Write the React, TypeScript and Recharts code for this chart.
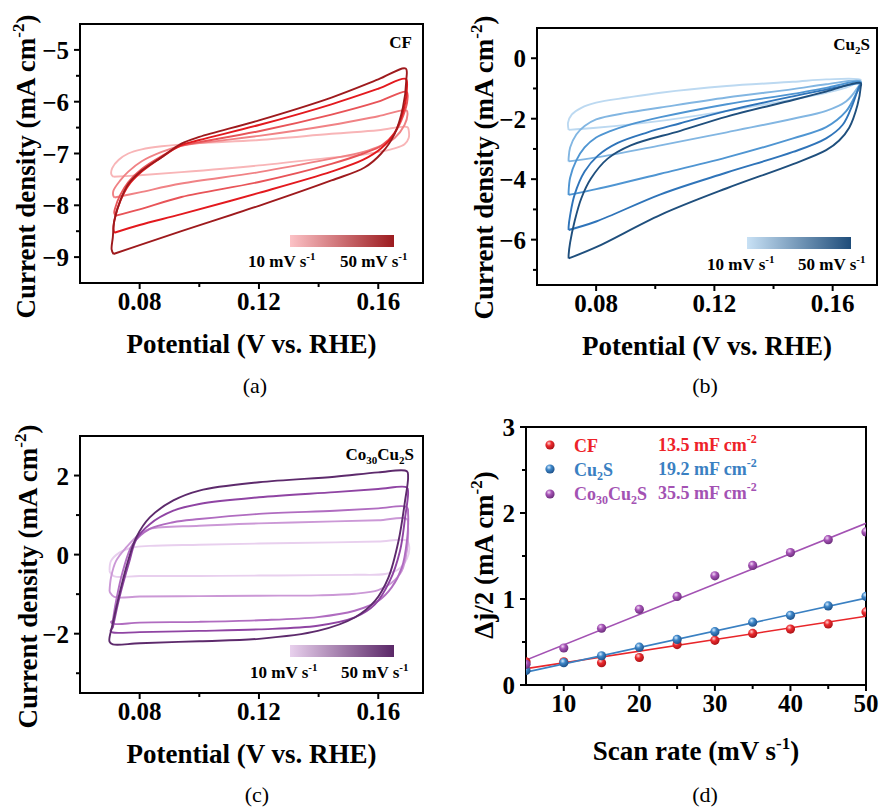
import React from "react";
import {
  LineChart,
  ComposedChart,
  Line,
  Scatter,
  XAxis,
  YAxis,
  ReferenceArea,
  Label,
} from "recharts";

type Pair = [number, number];

const FONT = '"Liberation Serif", "Times New Roman", serif';

// scan rates of the CV loops, light -> dark
const scanRates = [10, 20, 30, 40, 50];

// (a) CF : [potential V, current mA cm-2]
const cf10: Pair[] = [[0.0712,-7.45],[0.08,-7.42],[0.094,-7.36],[0.12,-7.23],[0.1443,-7.08],[0.155,-7.02],[0.161,-6.96],[0.1655,-6.9],[0.1688,-6.82],[0.1702,-6.7],[0.1702,-6.55],[0.1698,-6.49],[0.16,-6.55],[0.1443,-6.62],[0.12,-6.74],[0.1,-6.8],[0.0874,-6.86],[0.0807,-6.92],[0.0762,-7.0],[0.073,-7.12],[0.0708,-7.28],[0.0705,-7.4],[0.0712,-7.45]];
const cf20: Pair[] = [[0.0716,-7.85],[0.08,-7.75],[0.094,-7.58],[0.12,-7.36],[0.1443,-7.1],[0.155,-6.97],[0.161,-6.85],[0.1655,-6.7],[0.1688,-6.45],[0.1698,-6.25],[0.1695,-6.17],[0.16,-6.28],[0.1443,-6.45],[0.12,-6.66],[0.1,-6.8],[0.094,-6.85],[0.0874,-6.97],[0.0807,-7.15],[0.0762,-7.35],[0.0735,-7.52],[0.0712,-7.72],[0.0712,-7.82],[0.0716,-7.85]];
const cf30: Pair[] = [[0.072,-8.2],[0.08,-8.08],[0.094,-7.84],[0.12,-7.55],[0.1443,-7.2],[0.155,-7.0],[0.161,-6.85],[0.1655,-6.6],[0.1685,-6.25],[0.1698,-5.95],[0.1695,-5.81],[0.16,-6.0],[0.1443,-6.25],[0.12,-6.57],[0.1,-6.78],[0.094,-6.85],[0.0874,-7.05],[0.0807,-7.3],[0.0762,-7.55],[0.0735,-7.8],[0.0718,-8.05],[0.0715,-8.15],[0.072,-8.2]];
const cf40: Pair[] = [[0.0715,-8.53],[0.08,-8.38],[0.094,-8.17],[0.12,-7.76],[0.1443,-7.35],[0.155,-7.12],[0.161,-6.9],[0.1655,-6.6],[0.1683,-6.2],[0.1696,-5.75],[0.1692,-5.56],[0.16,-5.75],[0.1443,-6.05],[0.12,-6.45],[0.1,-6.74],[0.094,-6.84],[0.0874,-7.07],[0.0807,-7.35],[0.0762,-7.62],[0.0735,-7.92],[0.0718,-8.22],[0.0712,-8.45],[0.0715,-8.53]];
const cf50: Pair[] = [[0.0712,-8.94],[0.08,-8.77],[0.094,-8.5],[0.12,-8.01],[0.1443,-7.52],[0.1554,-7.27],[0.161,-7.0],[0.1655,-6.62],[0.1683,-6.1],[0.1694,-5.58],[0.1692,-5.36],[0.16,-5.57],[0.1443,-5.92],[0.12,-6.36],[0.1,-6.68],[0.094,-6.81],[0.0874,-7.07],[0.0807,-7.33],[0.0762,-7.59],[0.0735,-7.91],[0.0715,-8.3],[0.071,-8.62],[0.0706,-8.85],[0.0712,-8.94]];

// (b) Cu2S
const cu10: Pair[] = [[0.0707,-2.37],[0.08,-2.3],[0.1018,-2.07],[0.1242,-1.74],[0.1466,-1.36],[0.1578,-1.14],[0.1656,-0.93],[0.1695,-0.71],[0.1578,-0.7],[0.1466,-0.78],[0.1242,-0.92],[0.1018,-1.14],[0.0906,-1.3],[0.08,-1.47],[0.075,-1.64],[0.0718,-1.86],[0.0705,-2.13],[0.0707,-2.37]];
const cu20: Pair[] = [[0.0707,-3.41],[0.08,-3.28],[0.1018,-2.88],[0.1242,-2.45],[0.1466,-2.0],[0.1578,-1.74],[0.1645,-1.43],[0.1684,-0.98],[0.1695,-0.76],[0.1578,-0.86],[0.1466,-1.02],[0.1242,-1.3],[0.1018,-1.63],[0.0906,-1.8],[0.08,-2.02],[0.0761,-2.24],[0.0733,-2.52],[0.0712,-2.95],[0.0707,-3.3],[0.0707,-3.41]];
const cu30: Pair[] = [[0.0707,-4.52],[0.08,-4.33],[0.1018,-3.82],[0.1242,-3.28],[0.1466,-2.65],[0.1578,-2.28],[0.1645,-1.76],[0.1678,-1.2],[0.1695,-0.8],[0.1578,-0.98],[0.1466,-1.18],[0.1242,-1.52],[0.1018,-1.95],[0.0906,-2.22],[0.085,-2.4],[0.08,-2.62],[0.0761,-2.95],[0.0733,-3.38],[0.0712,-3.95],[0.0707,-4.4],[0.0707,-4.52]];
const cu40: Pair[] = [[0.0707,-5.68],[0.08,-5.4],[0.1018,-4.5],[0.1242,-3.78],[0.1466,-3.1],[0.1578,-2.65],[0.1634,-2.2],[0.1667,-1.54],[0.1689,-0.95],[0.1695,-0.85],[0.1578,-1.04],[0.1466,-1.26],[0.1242,-1.74],[0.1085,-2.15],[0.0974,-2.45],[0.0873,-2.8],[0.0806,-3.22],[0.0761,-3.75],[0.0727,-4.52],[0.0712,-5.2],[0.0707,-5.57],[0.0707,-5.68]];
const cu50: Pair[] = [[0.0707,-6.62],[0.08,-6.25],[0.1018,-5.18],[0.1242,-4.3],[0.1466,-3.5],[0.1578,-3.04],[0.1622,-2.72],[0.1656,-2.3],[0.1684,-1.55],[0.1695,-0.95],[0.1695,-0.82],[0.1578,-1.1],[0.1466,-1.38],[0.1242,-1.93],[0.1085,-2.4],[0.0917,-2.88],[0.0839,-3.32],[0.0783,-3.97],[0.075,-4.63],[0.0727,-5.4],[0.0712,-6.1],[0.0707,-6.5],[0.0707,-6.62]];

// (c) Co30Cu2S
const co10: Pair[] = [[0.0699,-0.41],[0.0704,-0.16],[0.0732,0.05],[0.0777,0.18],[0.0834,0.22],[0.1,0.25],[0.12,0.28],[0.1454,0.31],[0.16,0.33],[0.1696,0.35],[0.1704,0.18],[0.1696,-0.11],[0.1668,-0.37],[0.1623,-0.49],[0.1521,-0.51],[0.1397,-0.52],[0.12,-0.53],[0.1,-0.54],[0.08,-0.54],[0.0715,-0.55],[0.0701,-0.45],[0.0699,-0.41]];
const co20: Pair[] = [[0.0699,-0.92],[0.0704,-0.58],[0.0721,-0.16],[0.0755,0.18],[0.08,0.52],[0.0834,0.65],[0.1,0.73],[0.12,0.79],[0.1454,0.84],[0.16,0.87],[0.1696,0.9],[0.17,0.69],[0.1696,0.1],[0.1679,-0.41],[0.1645,-0.71],[0.16,-0.9],[0.1521,-0.99],[0.1397,-1.03],[0.12,-1.04],[0.1,-1.05],[0.08,-1.06],[0.0715,-1.07],[0.0701,-0.96],[0.0699,-0.92]];
const co30: Pair[] = [[0.071,-1.68],[0.0721,-1.17],[0.0744,-0.41],[0.0777,0.27],[0.0834,0.65],[0.0913,0.82],[0.1,0.9],[0.12,1.03],[0.1454,1.11],[0.16,1.17],[0.1696,1.2],[0.17,1.03],[0.1696,0.35],[0.1679,-0.33],[0.1645,-0.83],[0.16,-1.17],[0.1521,-1.42],[0.1397,-1.58],[0.12,-1.66],[0.1,-1.7],[0.08,-1.72],[0.0715,-1.75],[0.0704,-1.7],[0.071,-1.68]];
const co40: Pair[] = [[0.071,-1.85],[0.0732,-1.09],[0.0766,-0.16],[0.0789,0.39],[0.0834,0.77],[0.0913,1.11],[0.1,1.28],[0.12,1.45],[0.1454,1.58],[0.16,1.66],[0.1696,1.7],[0.17,1.58],[0.169,0.94],[0.1673,0.1],[0.1639,-0.66],[0.1589,-1.26],[0.1521,-1.59],[0.1397,-1.8],[0.12,-1.89],[0.1,-1.93],[0.08,-1.96],[0.071,-1.97],[0.0702,-1.93],[0.071,-1.85]];
const co50: Pair[] = [[0.0704,-1.93],[0.0732,-1.0],[0.0761,-0.16],[0.0789,0.44],[0.0834,0.94],[0.0913,1.37],[0.1,1.62],[0.12,1.83],[0.1454,1.97],[0.16,2.08],[0.1696,2.11],[0.17,1.96],[0.169,1.37],[0.1668,0.35],[0.1634,-0.58],[0.1589,-1.17],[0.1521,-1.59],[0.1397,-1.93],[0.12,-2.13],[0.1,-2.19],[0.08,-2.24],[0.071,-2.27],[0.0699,-2.2],[0.0704,-1.93]];

const cfCurves = [cf10, cf20, cf30, cf40, cf50];
const cuCurves = [cu10, cu20, cu30, cu40, cu50];
const coCurves = [co10, co20, co30, co40, co50];

const cfColors = ["#f8b5b7", "#f08285", "#e85458", "#e3191e", "#9e1a1d"];
const cuColors = ["#bcd9f1", "#82b6e2", "#4f95d2", "#2f74b9", "#1f4f7d"];
const coColors = ["#e8cfee", "#cb98d6", "#b06cc0", "#8f44a3", "#5d2a6c"];

// (d) double-layer capacitance
const scanRate = [5, 10, 15, 20, 25, 30, 35, 40, 45, 50];
const cfDj = [0.27, 0.27, 0.26, 0.32, 0.47, 0.52, 0.6, 0.65, 0.71, 0.85];
const cuDj = [0.17, 0.26, 0.34, 0.44, 0.53, 0.62, 0.73, 0.81, 0.92, 1.03];
const coDj = [0.24, 0.43, 0.66, 0.88, 1.03, 1.27, 1.39, 1.54, 1.69, 1.78];
const fitRate = [5, 50];
const cfFit = [0.19, 0.8];
const cuFit = [0.15, 1.01];
const coFit = [0.29, 1.88];
const capacitance = ["13.5", "19.2", "35.5"];

// ticks
const potTicks = [0.08, 0.1, 0.12, 0.14, 0.16];
const potMajor = [0.08, 0.12, 0.16];
const cfTicks = [-9, -8.5, -8, -7.5, -7, -6.5, -6, -5.5, -5];
const cfMajor = [-9, -8, -7, -6, -5];
const cuTicks = [-7, -6, -5, -4, -3, -2, -1, 0];
const cuMajor = [-6, -4, -2, 0];
const coTicks = [-3, -2, -1, 0, 1, 2];
const coMajor = [-2, 0, 2];
const rateTicks = [10, 15, 20, 25, 30, 35, 40, 45, 50];
const rateMajor = [10, 20, 30, 40, 50];
const djTicks = [0, 0.5, 1, 1.5, 2, 2.5, 3];
const djMajor = [0, 1, 2, 3];

const toXY = (p: Pair[]) => p.map(([x, y]) => ({ x, y }));
const zip = (xs: number[], ys: number[]) => xs.map((x, i) => ({ x, y: ys[i] }));
const near = (v: number, list: number[]) => list.some((m) => Math.abs(m - v) < 1e-9);
const signed = (v: number) => (v < 0 ? "\u2212" + Math.abs(v) : String(v));
const pot = (v: number) => v.toFixed(2);

// centripetal Catmull-Rom, so the closed CV loops come out smooth (monotone curves can't do loops)
const catmullRom = (context: any) => {
  let pts: Pair[] = [];
  return {
    areaStart() {},
    areaEnd() {},
    lineStart() {
      pts = [];
    },
    point(x: number, y: number) {
      pts.push([+x, +y]);
    },
    lineEnd() {
      const n = pts.length;
      if (!n) return;
      context.moveTo(pts[0][0], pts[0][1]);
      const d = (a: Pair, b: Pair) => Math.hypot(b[0] - a[0], b[1] - a[1]);
      for (let i = 0; i < n - 1; i++) {
        const p0 = pts[i - 1];
        const p1 = pts[i];
        const p2 = pts[i + 1];
        const p3 = pts[i + 2];
        const l12 = d(p1, p2);
        const a12 = Math.sqrt(l12);
        let c1: Pair = [p1[0], p1[1]];
        let c2: Pair = [p2[0], p2[1]];
        if (p0) {
          const l01 = d(p0, p1);
          const a01 = Math.sqrt(l01);
          if (a01 > 1e-6) {
            const a = 2 * l01 + 3 * a01 * a12 + l12;
            const m = 3 * a01 * (a01 + a12);
            c1 = [(p1[0] * a - p0[0] * l12 + p2[0] * l01) / m, (p1[1] * a - p0[1] * l12 + p2[1] * l01) / m];
          }
        }
        if (p3) {
          const l23 = d(p2, p3);
          const a23 = Math.sqrt(l23);
          if (a23 > 1e-6) {
            const b = 2 * l23 + 3 * a23 * a12 + l12;
            const m = 3 * a23 * (a23 + a12);
            c2 = [(p2[0] * b + p1[0] * l23 - p3[0] * l12) / m, (p2[1] * b + p1[1] * l23 - p3[1] * l12) / m];
          }
        }
        context.bezierCurveTo(c1[0], c1[1], c2[0], c2[1], p2[0], p2[1]);
      }
    },
  };
};

const tickText = { fontFamily: FONT, fontWeight: 700, fontSize: 25, fill: "#000" } as const;
const titleText = { fontFamily: FONT, fontWeight: 700, fontSize: 27, fill: "#000" } as const;

const makeXTick = (majors: number[], fmt: (v: number) => string) => (props: any) => {
  const { x, y, payload } = props;
  const major = near(payload.value, majors);
  return (
    <g>
      <line x1={x} x2={x} y1={y} y2={y + (major ? 6 : 4)} stroke="#000" strokeWidth={2} />
      {major && (
        <text x={x} y={y + 27} textAnchor="middle" style={tickText}>
          {fmt(payload.value)}
        </text>
      )}
    </g>
  );
};

const makeYTick = (majors: number[], fmt: (v: number) => string) => (props: any) => {
  const { x, y, payload } = props;
  const major = near(payload.value, majors);
  return (
    <g>
      <line x1={x - (major ? 6 : 4)} x2={x} y1={y} y2={y} stroke="#000" strokeWidth={2} />
      {major && (
        <text x={x - 11} y={y + 9} textAnchor="end" style={tickText}>
          {fmt(payload.value)}
        </text>
      )}
    </g>
  );
};

const potTitle = (dy: number) => (props: any) => {
  const { x, y, width } = props.viewBox;
  return (
    <text x={x + width / 2} y={y + dy} textAnchor="middle" style={titleText}>
      Potential (V vs. RHE)
    </text>
  );
};

const rateTitle = (dy: number) => (props: any) => {
  const { x, y, width } = props.viewBox;
  return (
    <text x={x + width / 2} y={y + dy} textAnchor="middle" style={titleText}>
      Scan rate (mV s<tspan dy={-11} fontSize={17}>-1</tspan>
      <tspan dy={11}>)</tspan>
    </text>
  );
};

const yTitle = (head: string, gap: number, shift: number) => (props: any) => {
  const { x, y, width, height } = props.viewBox;
  const bx = x + width - gap;
  const cy = y + height / 2 + shift;
  return (
    <text x={bx} y={cy} transform={`rotate(-90 ${bx} ${cy})`} textAnchor="middle" style={titleText}>
      {head} (mA cm<tspan dy={-11} fontSize={17}>-2</tspan>
      <tspan dy={11}>)</tspan>
    </text>
  );
};

const ball = (id: string, light: string, base: string, dark: string) => (props: any) => (
  <g>
    <defs>
      <radialGradient id={id} cx="38%" cy="32%" r="70%">
        <stop offset="0%" stopColor={light} />
        <stop offset="40%" stopColor={base} />
        <stop offset="100%" stopColor={dark} />
      </radialGradient>
    </defs>
    <circle cx={props.cx} cy={props.cy} r={4.6} fill={`url(#${id})`} />
  </g>
);

interface CvProps {
  curves: Pair[][];
  colors: string[];
  yDomain: [number, number];
  yTicks: number[];
  yMajor: number[];
  margin: { top: number; right: number; bottom: number; left: number };
  titleGap: number;
  titleShift: number;
}

const CvPanel: React.FC<CvProps> = ({ curves, colors, yDomain, yTicks, yMajor, margin, titleGap, titleShift }) => (
  <LineChart width={440} height={404} margin={margin}>
    <XAxis
      type="number"
      dataKey="x"
      domain={[0.06, 0.175]}
      ticks={potTicks}
      interval={0}
      allowDataOverflow
      axisLine={false}
      tickLine={false}
      tickSize={0}
      tickMargin={0}
      height={30}
      tick={makeXTick(potMajor, pot)}
    >
      <Label content={potTitle(70)} />
    </XAxis>
    <YAxis
      type="number"
      dataKey="y"
      domain={yDomain}
      ticks={yTicks}
      interval={0}
      allowDataOverflow
      axisLine={false}
      tickLine={false}
      tickSize={0}
      tickMargin={0}
      width={60}
      tick={makeYTick(yMajor, signed)}
    >
      <Label content={yTitle("Current density", titleGap, titleShift)} />
    </YAxis>
    <ReferenceArea x1={0.06} x2={0.175} y1={yDomain[0]} y2={yDomain[1]} fill="none" fillOpacity={0} stroke="#000" strokeWidth={2} ifOverflow="visible" />
    {curves.map((c, i) => (
      <Line
        key={scanRates[i]}
        data={toXY(c)}
        dataKey="y"
        type={catmullRom as any}
        stroke={colors[i]}
        strokeWidth={1.9}
        strokeLinejoin="round"
        dot={false}
        activeDot={false}
        isAnimationActive={false}
      />
    ))}
  </LineChart>
);

const CdlPanel: React.FC = () => (
  <ComposedChart width={440} height={404} margin={{ top: 23, right: 14, bottom: 93, left: 26 }}>
    <XAxis
      type="number"
      dataKey="x"
      domain={[5, 50]}
      ticks={rateTicks}
      interval={0}
      allowDataOverflow
      axisLine={false}
      tickLine={false}
      tickSize={0}
      tickMargin={0}
      height={30}
      tick={makeXTick(rateMajor, String)}
    >
      <Label content={rateTitle(75)} />
    </XAxis>
    <YAxis
      type="number"
      dataKey="y"
      domain={[0, 3]}
      ticks={djTicks}
      interval={0}
      allowDataOverflow
      axisLine={false}
      tickLine={false}
      tickSize={0}
      tickMargin={0}
      width={60}
      tick={makeYTick(djMajor, String)}
    >
      <Label content={yTitle("\u0394j/2", 33, -1)} />
    </YAxis>
    <ReferenceArea x1={5} x2={50} y1={0} y2={3} fill="none" fillOpacity={0} stroke="#000" strokeWidth={2} ifOverflow="visible" />
    <Line data={zip(fitRate, cfFit)} dataKey="y" type="linear" stroke="#e8262a" strokeWidth={1.6} dot={false} activeDot={false} isAnimationActive={false} />
    <Line data={zip(fitRate, cuFit)} dataKey="y" type="linear" stroke="#3a80c2" strokeWidth={1.6} dot={false} activeDot={false} isAnimationActive={false} />
    <Line data={zip(fitRate, coFit)} dataKey="y" type="linear" stroke="#a352b3" strokeWidth={1.6} dot={false} activeDot={false} isAnimationActive={false} />
    <Scatter data={zip(scanRate, cfDj)} shape={ball("bCF", "#ffd0d0", "#ec2a2e", "#a81216")} isAnimationActive={false} />
    <Scatter data={zip(scanRate, cuDj)} shape={ball("bCU", "#d6ecff", "#3d86c8", "#1d4f86")} isAnimationActive={false} />
    <Scatter data={zip(scanRate, coDj)} shape={ball("bCO", "#f2d8f6", "#a653b6", "#6a2d7a")} isAnimationActive={false} />
  </ComposedChart>
);

const small = { fontFamily: FONT, fontWeight: 700, fontSize: 17, fill: "#000" } as const;
const inset = { fontFamily: FONT, fontWeight: 700, fontSize: 17, fill: "#000" } as const;
const letter = { fontFamily: FONT, fontSize: 22, fill: "#000" } as const;
const leg = { fontFamily: FONT, fontWeight: 700, fontSize: 18 } as const;

const RateLabel: React.FC<{ x: number; y: number; v: number }> = ({ x, y, v }) => (
  <text x={x} y={y} style={small}>
    {v} mV s<tspan dy={-7} fontSize={11}>-1</tspan>
  </text>
);

const GradBar: React.FC<{ id: string; x: number; y: number; from: string; to: string; ly: number; l1: number; l2: number }> = ({ id, x, y, from, to, ly, l1, l2 }) => (
  <g>
    <defs>
      <linearGradient id={id} x1="0" x2="1" y1="0" y2="0">
        <stop offset="0%" stopColor={from} />
        <stop offset="100%" stopColor={to} />
      </linearGradient>
    </defs>
    <rect x={x} y={y} width={104} height={12} fill={`url(#${id})`} />
    <RateLabel x={l1} y={ly} v={scanRates[0]} />
    <RateLabel x={l2} y={ly} v={scanRates[4]} />
  </g>
);

const Annotations: React.FC = () => (
  <svg width={880} height={808} style={{ position: "absolute", left: 0, top: 0, pointerEvents: "none" }}>
    <defs>
      <radialGradient id="lCF" cx="38%" cy="32%" r="70%">
        <stop offset="0%" stopColor="#ffd0d0" />
        <stop offset="40%" stopColor="#ec2a2e" />
        <stop offset="100%" stopColor="#a81216" />
      </radialGradient>
      <radialGradient id="lCU" cx="38%" cy="32%" r="70%">
        <stop offset="0%" stopColor="#d6ecff" />
        <stop offset="40%" stopColor="#3d86c8" />
        <stop offset="100%" stopColor="#1d4f86" />
      </radialGradient>
      <radialGradient id="lCO" cx="38%" cy="32%" r="70%">
        <stop offset="0%" stopColor="#f2d8f6" />
        <stop offset="40%" stopColor="#a653b6" />
        <stop offset="100%" stopColor="#6a2d7a" />
      </radialGradient>
    </defs>

    <text x={412} y={48} textAnchor="end" style={inset}>CF</text>
    <text x={870} y={50} textAnchor="end" style={inset}>
      Cu<tspan dy={4} fontSize={11}>2</tspan>
      <tspan dy={-4}>S</tspan>
    </text>
    <text x={414} y={460} textAnchor="end" style={inset}>
      Co<tspan dy={4} fontSize={11}>30</tspan>
      <tspan dy={-4}>Cu</tspan>
      <tspan dy={4} fontSize={11}>2</tspan>
      <tspan dy={-4}>S</tspan>
    </text>

    <GradBar id="gA" x={290} y={235} from="#fcc2c6" to="#9c1b1f" ly={267} l1={248} l2={340} />
    <GradBar id="gB" x={747} y={237} from="#c8e1f5" to="#1f4d7a" ly={270} l1={707} l2={798} />
    <GradBar id="gC" x={290} y={645} from="#e8d0ed" to="#5a2767" ly={678} l1={250} l2={341} />

    <circle cx={550} cy={445} r={4.6} fill="url(#lCF)" />
    <circle cx={550} cy={469} r={4.6} fill="url(#lCU)" />
    <circle cx={550} cy={494} r={4.6} fill="url(#lCO)" />
    <text x={574} y={452} style={{ ...leg, fill: "#ee2228" }}>CF</text>
    <text x={574} y={476} style={{ ...leg, fill: "#3a80c2" }}>
      Cu<tspan dy={4} fontSize={12}>2</tspan>
      <tspan dy={-4}>S</tspan>
    </text>
    <text x={574} y={500} style={{ ...leg, fill: "#a352b3" }}>
      Co<tspan dy={4} fontSize={12}>30</tspan>
      <tspan dy={-4}>Cu</tspan>
      <tspan dy={4} fontSize={12}>2</tspan>
      <tspan dy={-4}>S</tspan>
    </text>
    {[
      { c: "#ee2228", y: 451 },
      { c: "#3a80c2", y: 475 },
      { c: "#a352b3", y: 499 },
    ].map((r, i) => (
      <text key={i} x={658} y={r.y} style={{ ...leg, fill: r.c }}>
        {capacitance[i]} mF cm<tspan dy={-8} fontSize={12}>-2</tspan>
      </text>
    ))}

    <text x={255} y={393} textAnchor="middle" style={letter}>(a)</text>
    <text x={705} y={393} textAnchor="middle" style={letter}>(b)</text>
    <text x={257} y={802} textAnchor="middle" style={letter}>(c)</text>
    <text x={705} y={802} textAnchor="middle" style={letter}>(d)</text>
  </svg>
);

export default function App() {
  return (
    <div style={{ position: "absolute", left: 0, top: 0, width: 880, height: 808, background: "#fff" }}>
      <div style={{ position: "absolute", left: 0, top: 0 }}>
        <CvPanel curves={cfCurves} colors={cfColors} yDomain={[-9.5, -4.5]} yTicks={cfTicks} yMajor={cfMajor}
          margin={{ top: 24, right: 17, bottom: 91, left: 20 }} titleGap={45} titleShift={13} />
      </div>
      <div style={{ position: "absolute", left: 440, top: 0 }}>
        <CvPanel curves={cuCurves} colors={cuColors} yDomain={[-7.5, 1]} yTicks={cuTicks} yMajor={cuMajor}
          margin={{ top: 28, right: 3, bottom: 89, left: 37 }} titleGap={44} titleShift={11} />
      </div>
      <div style={{ position: "absolute", left: 0, top: 404 }}>
        <CvPanel curves={coCurves} colors={coColors} yDomain={[-3.5, 3]} yTicks={coTicks} yMajor={coMajor}
          margin={{ top: 32, right: 17, bottom: 85, left: 20 }} titleGap={43} titleShift={12} />
      </div>
      <div style={{ position: "absolute", left: 440, top: 404 }}>
        <CdlPanel />
      </div>
      <Annotations />
    </div>
  );
}
